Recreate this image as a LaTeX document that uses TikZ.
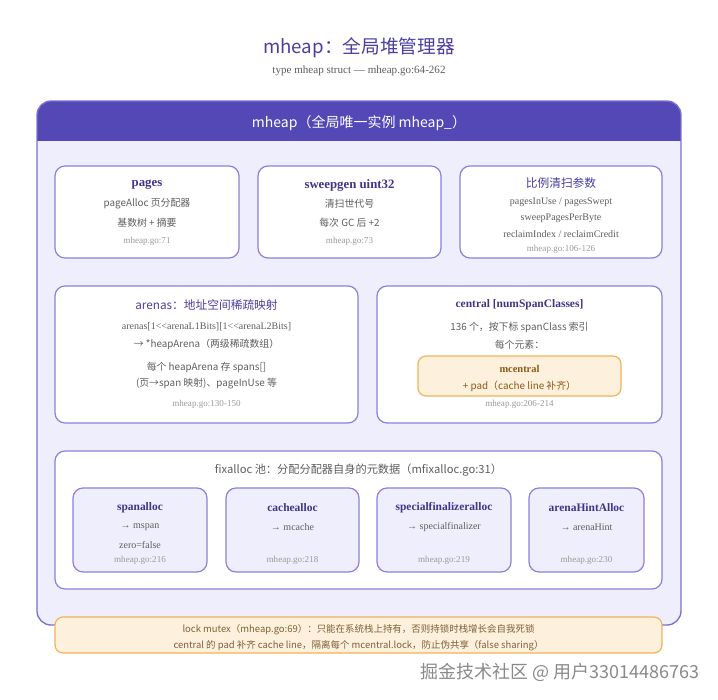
\documentclass[tikz,border=0pt]{standalone}
\usepackage{fontspec}
\setmainfont{Liberation Serif}
\newfontfamily\cjk{Noto Sans CJK SC}
\usetikzlibrary{fit}
\definecolor{titlepurple}{HTML}{4A3F9E}
\definecolor{headfill}{HTML}{5448B6}
\definecolor{outerborder}{HTML}{7B70D2}
\definecolor{lavender}{HTML}{EFEEFC}
\definecolor{cardborder}{HTML}{8C81DA}
\definecolor{boxtitle}{HTML}{3F3588}
\definecolor{bodygrey}{HTML}{5E5E5E}
\definecolor{smallgrey}{HTML}{9A9A9A}
\definecolor{orangefill}{HTML}{FDF0DC}
\definecolor{orangeborder}{HTML}{F0B457}
\definecolor{browntext}{HTML}{8A5A14}
\definecolor{notetext}{HTML}{7D6136}
\definecolor{wmgrey}{HTML}{8A8A8A}
\tikzset{
  card/.style={draw=cardborder, fill=white, line width=0.9pt, rounded corners=7.5pt, inner sep=0pt},
  subcard/.style={draw=cardborder, fill=lavender, line width=0.9pt, rounded corners=7.5pt, inner sep=0pt},
  orangebox/.style={draw=orangeborder, fill=orangefill, line width=0.9pt, rounded corners=6pt, inner sep=0pt},
  txt/.style={inner sep=0pt, anchor=center},
  bigtitle/.style={txt, font=\cjk\fontsize{14}{16}\selectfont, text=titlepurple},
  subtitle/.style={txt, font=\fontsize{8.3}{10}\selectfont, text=bodygrey},
  headtext/.style={txt, font=\cjk\fontsize{10.5}{12}\selectfont, text=white},
  boldttl/.style={txt, font=\bfseries\fontsize{9.6}{11}\selectfont, text=boxtitle},
  boldttlsm/.style={txt, font=\bfseries\fontsize{8.6}{10}\selectfont, text=boxtitle},
  cjkttl/.style={txt, font=\cjk\fontsize{8.8}{10}\selectfont, text=titlepurple},
  sans/.style={txt, font=\cjk\fontsize{7.4}{9}\selectfont, text=bodygrey},
  serif/.style={txt, font=\fontsize{7.5}{9}\selectfont, text=bodygrey},
  ref/.style={txt, font=\fontsize{6.8}{8}\selectfont, text=smallgrey},
  notestyle/.style={txt, font=\cjk\fontsize{7.1}{8}\selectfont, text=notetext},
}
\begin{document}
\begin{tikzpicture}[x=0.75pt,y=-0.75pt]
\useasboundingbox (0,0) rectangle (718,700);
\fill[white] (0,0) rectangle (718,700);

% title
\node[bigtitle] (title) at (359,48) {mheap：全局堆管理器};
\node[subtitle] (subtitle) at (359,71) {type mheap struct — mheap.go:64-262};

% outer container
\begin{scope}
  \clip[rounded corners=10.5pt] (37,101) rectangle (681,625);
  \fill[lavender] (37,101) rectangle (681,625);
  \fill[headfill] (37,101) rectangle (681,141);
\end{scope}
\node[draw=outerborder, line width=1pt, rounded corners=10.5pt, inner sep=0pt, fit={(37,101) (681,625)}] (outer) {};
\node[headtext] (head) at (359,123) {mheap（全局唯一实例 mheap\_）};

% row 1
\node[card, fit={(55,166) (239,258)}] (pages) {};
\node[boldttl] (pagesT) at (147,185) {pages};
\node[sans] (pagesA) at (147,204) {pageAlloc 页分配器};
\node[sans] (pagesB) at (147,223) {基数树 + 摘要};
\node[ref] (pagesR) at (147,241) {mheap.go:71};

\node[card, fit={(258,166) (441,258)}] (sweep) {};
\node[boldttl] (sweepT) at (349.5,185) {sweepgen uint32};
\node[sans] (sweepA) at (349.5,204) {清扫世代号};
\node[sans] (sweepB) at (349.5,223) {每次 GC 后 +2};
\node[ref] (sweepR) at (349.5,241) {mheap.go:73};

\node[card, fit={(460,166) (662,258)}] (ratio) {};
\node[cjkttl] (ratioT) at (561,183) {比例清扫参数};
\node[serif] (ratioA) at (561,202) {pagesInUse / pagesSwept};
\node[serif] (ratioB) at (561,218) {sweepPagesPerByte};
\node[serif] (ratioC) at (561,234) {reclaimIndex / reclaimCredit};
\node[ref] (ratioR) at (561,249) {mheap.go:106-126};

% row 2
\node[card, fit={(55,286) (358,423)}] (arenas) {};
\node[cjkttl] (arenasT) at (206.5,305) {arenas：地址空间稀疏映射};
\node[serif] (arenasA) at (206.5,327) {arenas[1<{}<arenaL1Bits][1<{}<arenaL2Bits]};
\node[sans] (arenasB) at (206.5,344) {→ *heapArena（两级稀疏数组）};
\node[sans] (arenasC) at (206.5,367) {每个 heapArena 存 spans[]};
\node[sans] (arenasD) at (206.5,384) {(页→span 映射)、pageInUse 等};
\node[ref] (arenasR) at (206.5,404) {mheap.go:130-150};

\node[card, fit={(377,286) (662,423)}] (central) {};
\node[boldttlsm] (centralT) at (519.5,305) {central [numSpanClasses]};
\node[sans] (centralA) at (519.5,327) {136 个，按下标 spanClass 索引};
\node[sans] (centralB) at (519.5,345) {每个元素：};
\node[orangebox, fit={(418,356) (621,396)}] (mcentral) {};
\node[txt, font=\bfseries\fontsize{7.8}{9}\selectfont, text=browntext] (mcentralT) at (519.5,369) {mcentral};
\node[sans, text=browntext] (mcentralA) at (519.5,386) {+ pad（cache line 补齐）};
\node[ref] (centralR) at (519.5,404) {mheap.go:206-214};

% row 3
\node[card, fit={(55,451) (662,589)}] (fix) {};
\node[txt, font=\cjk\fontsize{8.4}{10}\selectfont, text=bodygrey] (fixT) at (358.5,470) {fixalloc 池：分配分配器自身的元数据（mfixalloc.go:31）};

\node[subcard, fit={(73,488) (207,572)}] (span) {};
\node[boldttlsm] (spanT) at (140,508) {spanalloc};
\node[serif] (spanA) at (140,527) {→ mspan};
\node[serif] (spanB) at (140,545) {zero=false};
\node[ref] (spanR) at (140,560) {mheap.go:216};

\node[subcard, fit={(226,488) (359,572)}] (cache) {};
\node[boldttlsm] (cacheT) at (292.5,508) {cachealloc};
\node[serif] (cacheA) at (292.5,527) {→ mcache};
\node[ref] (cacheR) at (292.5,560) {mheap.go:218};

\node[subcard, fit={(377,488) (511,572)}] (special) {};
\node[boldttlsm] (specialT) at (444,508) {specialfinalizeralloc};
\node[serif] (specialA) at (444,527) {→ specialfinalizer};
\node[ref] (specialR) at (444,560) {mheap.go:219};

\node[subcard, fit={(529,488) (644,572)}] (hint) {};
\node[boldttlsm] (hintT) at (586.5,508) {arenaHintAlloc};
\node[serif] (hintA) at (586.5,527) {→ arenaHint};
\node[ref] (hintR) at (586.5,560) {mheap.go:230};

% note
\node[orangebox, fit={(55,617) (662,653)}] (note) {};
\node[notestyle] (noteA) at (358.5,630) {lock mutex（mheap.go:69）：只能在系统栈上持有，否则持锁时栈增长会自我死锁};
\node[notestyle] (noteB) at (358.5,646) {central 的 pad 补齐 cache line，隔离每个 mcentral.lock，防止伪共享（false sharing）};

% watermark
\node[txt, anchor=east, font=\cjk\fontsize{13.5}{15}\selectfont, text=wmgrey] (wm) at (700,672) {掘金技术社区 @ 用户33014486763};
\end{tikzpicture}
\end{document}
